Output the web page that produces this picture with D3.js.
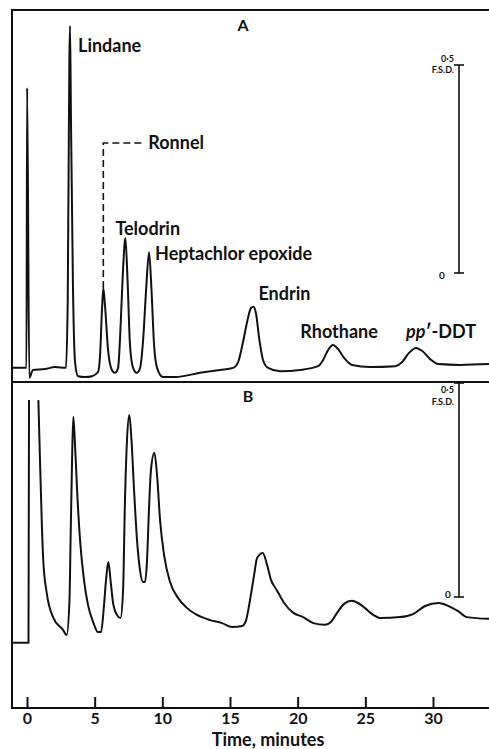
<!DOCTYPE html>
<html>
<head>
<meta charset="utf-8">
<script src="https://cdn.jsdelivr.net/npm/d3@7"></script>
<style>
  html, body { margin: 0; padding: 0; background: #fff; }
  svg text { font-family: Lato, "Open Sans", sans-serif; fill: #111; }
</style>
</head>
<body>
<div id="chart"></div>
<script>
// retention time (minutes) and detector response (fraction of full-scale deflection)
const timeA = [
  -1.11, -0.04, 0.01, 0.17, 0.44, 1.33, 2.07, 2.88,
  3.01, 3.13, 3.18, 3.25, 3.40, 3.55, 3.77, 4.29, 4.80, 5.25,
  5.40, 5.54, 5.64, 5.76, 5.99, 6.21, 6.50, 6.73,
  6.87, 7.06, 7.27, 7.43, 7.61, 7.84, 8.11, 8.36,
  8.58, 8.80, 9.02, 9.20, 9.39, 9.61, 10.05, 10.94, 12.79, 14.26, 15.23,
  15.60, 15.96, 16.33, 16.55, 16.73, 16.93, 17.15, 17.44, 17.81, 18.70, 20.18, 21.51,
  21.88, 22.25, 22.62, 22.99, 23.43, 24.02, 25.35, 27.20,
  27.72, 28.23, 28.75, 29.19, 29.79, 30.38, 32.00, 34.15
];
const respA = [
  -0.228, -0.228, 0.445, -0.252, -0.233, -0.231, -0.226, -0.228,
  -0.065, 0.512, 0.594, 0.368, -0.041, -0.214, -0.248, -0.250, -0.248, -0.238,
  -0.197, -0.089, -0.036, -0.077, -0.185, -0.228, -0.240, -0.228,
  -0.161, -0.017, 0.084, -0.017, -0.173, -0.228, -0.240, -0.228,
  -0.161, -0.041, 0.050, -0.041, -0.173, -0.228, -0.250, -0.250, -0.240, -0.233, -0.228,
  -0.214, -0.166, -0.108, -0.084, -0.081, -0.099, -0.156, -0.209, -0.228, -0.236, -0.233, -0.224,
  -0.209, -0.185, -0.173, -0.183, -0.204, -0.221, -0.226, -0.224,
  -0.214, -0.192, -0.180, -0.187, -0.207, -0.219, -0.221, -0.219
];

// null = pen off scale (solvent peak)
const timeB = [
  -1.03, 0.11, 0.15, 0.50,
  0.84, 0.96, 1.20, 1.46, 1.92, 2.66, 2.93, 3.14,
  3.22, 3.33, 3.42, 3.55, 3.70, 3.92, 4.21, 4.51, 4.88, 5.25, 5.47,
  5.69, 5.84, 6.01, 6.17, 6.36, 6.65, 6.91,
  7.10, 7.24, 7.39, 7.56, 7.72, 7.91, 8.13, 8.35, 8.57, 8.72,
  8.87, 9.01, 9.16, 9.41, 9.61, 9.83, 10.13, 10.57, 11.16, 11.83, 12.56, 13.53, 14.41, 15.15, 15.89,
  16.19, 16.48, 16.78, 17.00, 17.42, 17.74, 18.03, 18.46, 19.00, 19.68, 20.40, 21.16, 22.03,
  22.47, 22.91, 23.43, 24.00, 24.46, 24.98, 25.50, 26.09, 27.57,
  28.53, 29.42, 30.40, 31.27, 31.86, 32.50, 34.15
];
const respB = [
  -0.107, -0.107, 0.460, null,
  0.460, 0.320, 0.086, 0.009, -0.047, -0.077, -0.089, -0.007,
  0.133, 0.320, 0.421, 0.355, 0.250, 0.133, 0.040, -0.019, -0.058, -0.082, -0.082,
  -0.019, 0.040, 0.082, 0.040, -0.014, -0.042, -0.049,
  0.016, 0.227, 0.367, 0.425, 0.367, 0.250, 0.133, 0.063, 0.035, 0.035,
  0.086, 0.203, 0.297, 0.337, 0.285, 0.180, 0.098, 0.035, -0.002, -0.026, -0.042, -0.054, -0.061, -0.070, -0.068,
  -0.054, -0.007, 0.051, 0.091, 0.103, 0.075, 0.040, 0.016, -0.014, -0.037, -0.047, -0.061, -0.065,
  -0.058, -0.037, -0.016, -0.009, -0.014, -0.026, -0.040, -0.049, -0.047,
  -0.040, -0.021, -0.014, -0.023, -0.033, -0.047, -0.051
];

const xTicks = [0, 5, 10, 15, 20, 25, 30];
const scaleBar = [0, 0.5];

const peakNames = ["Lindane", "Ronnel", "Telodrin", "Heptachlor epoxide", "Endrin", "Rhothane", "pp′-DDT"];
const peakTimes = [3.18, 5.64, 7.27, 9.02, 16.73, 22.62, 28.75];
const peakResp = [0.594, -0.036, 0.084, 0.050, -0.081, -0.173, -0.180];

const width = 489, height = 749;
const frameLeft = 12, frameTop = 10, frameMid = 382, frameBottom = 708;

const svg = d3.select('#chart').append('svg')
  .attr('width', width)
  .attr('height', height);

const x = d3.scaleLinear().domain([0, 30]).range([27, 433]);
const yA = d3.scaleLinear().domain([0, 0.5]).range([273, 65]);
const yB = d3.scaleLinear().domain([0, 0.5]).range([597, 383]);

const ink = '#111';

// frame
svg.append('path')
  .attr('d', `M${width},${frameTop}H${frameLeft}V${frameBottom}H${width}M${frameLeft},${frameMid}H${width}`)
  .attr('fill', 'none')
  .attr('stroke', ink)
  .attr('stroke-width', 2);

// time axis, ticks pointing up
const axis = svg.append('g')
  .attr('transform', `translate(0,${frameBottom})`)
  .call(d3.axisBottom(x).tickValues(xTicks).tickSize(-11).tickPadding(5));
axis.select('.domain').remove();
axis.selectAll('line').attr('stroke', ink).attr('stroke-width', 2);
axis.selectAll('text')
  .attr('font-size', 16)
  .attr('font-weight', 700)
  .style('font-family', 'Lato, sans-serif')
  .attr('fill', ink);

svg.append('text')
  .attr('x', 268)
  .attr('y', 746)
  .attr('text-anchor', 'middle')
  .attr('font-size', 18)
  .attr('font-weight', 700)
  .text('Time, minutes');

// traces
function trace(times, resp, y) {
  const pts = times.map((t, i) => [t, resp[i]]);
  const line = d3.line()
    .defined(d => d[1] !== null)
    .x(d => x(d[0]))
    .y(d => y(d[1]))
    .curve(d3.curveMonotoneX);
  svg.append('path')
    .attr('d', line(pts))
    .attr('fill', 'none')
    .attr('stroke', ink)
    .attr('stroke-width', 2)
    .attr('stroke-linejoin', 'round');
}
trace(timeA, respA, yA);
trace(timeB, respB, yB);

// full-scale-deflection bars
function fsdBar(y, bx, zeroX, halfY, fsdY, zeroY) {
  svg.append('line')
    .attr('x1', bx).attr('x2', bx)
    .attr('y1', y(scaleBar[0])).attr('y2', y(scaleBar[1]))
    .attr('stroke', ink).attr('stroke-width', 1.6);
  scaleBar.forEach(v => {
    svg.append('line')
      .attr('x1', bx - 5).attr('x2', bx + 5)
      .attr('y1', y(v)).attr('y2', y(v))
      .attr('stroke', ink).attr('stroke-width', 1.6);
  });
  svg.append('text').attr('x', bx - 5).attr('y', y(scaleBar[1]) + halfY)
    .attr('text-anchor', 'end').attr('font-size', 9).attr('font-weight', 700).text('0·5');
  svg.append('text').attr('x', bx - 5).attr('y', y(scaleBar[1]) + fsdY)
    .attr('text-anchor', 'end').attr('font-size', 9).attr('font-weight', 700).text('F.S.D.');
  svg.append('text').attr('x', zeroX).attr('y', y(scaleBar[0]) + zeroY)
    .attr('text-anchor', 'middle').attr('font-size', 10).attr('font-weight', 700).text('0');
}
fsdBar(yA, 459, 442, -3, 8, 6);
fsdBar(yB, 459, 448, 10, 22, 1);

// panel letters
svg.append('text').attr('x', 243).attr('y', 31).attr('text-anchor', 'middle')
  .attr('font-size', 16).attr('font-weight', 700).text('A');
svg.append('text').attr('x', 248).attr('y', 402).attr('text-anchor', 'middle')
  .attr('font-size', 16).attr('font-weight', 700).text('B');

// peak labels (offsets from the peak apex, in px)
const labelDx = [8, 0, -10, 6, 5, 6, 25];
const labelDy = [26, 0, -3, 8, -7, -7, -10];
const labelAnchor = ['start', 'start', 'start', 'start', 'start', 'middle', 'middle'];

peakNames.forEach((name, i) => {
  const px = x(peakTimes[i]);
  const py = yA(peakResp[i]);
  if (name === 'Ronnel') {
    const ly = 143;
    svg.append('path')
      .attr('d', `M${px},${py}V${ly}H${px + 39}`)
      .attr('fill', 'none')
      .attr('stroke', ink)
      .attr('stroke-width', 1.6)
      .attr('stroke-dasharray', '7,4');
    svg.append('text').attr('x', px + 45).attr('y', ly + 6)
      .attr('font-size', 18).attr('font-weight', 700).text(name);
    return;
  }
  const t = svg.append('text')
    .attr('x', px + labelDx[i])
    .attr('y', py + labelDy[i])
    .attr('text-anchor', labelAnchor[i])
    .attr('font-size', 18)
    .attr('font-weight', 700);
  if (name.startsWith('pp')) {
    t.append('tspan').attr('font-style', 'italic').text('pp');
    t.append('tspan').text(name.slice(2));
  } else {
    t.text(name);
  }
});
</script>
</body>
</html>
